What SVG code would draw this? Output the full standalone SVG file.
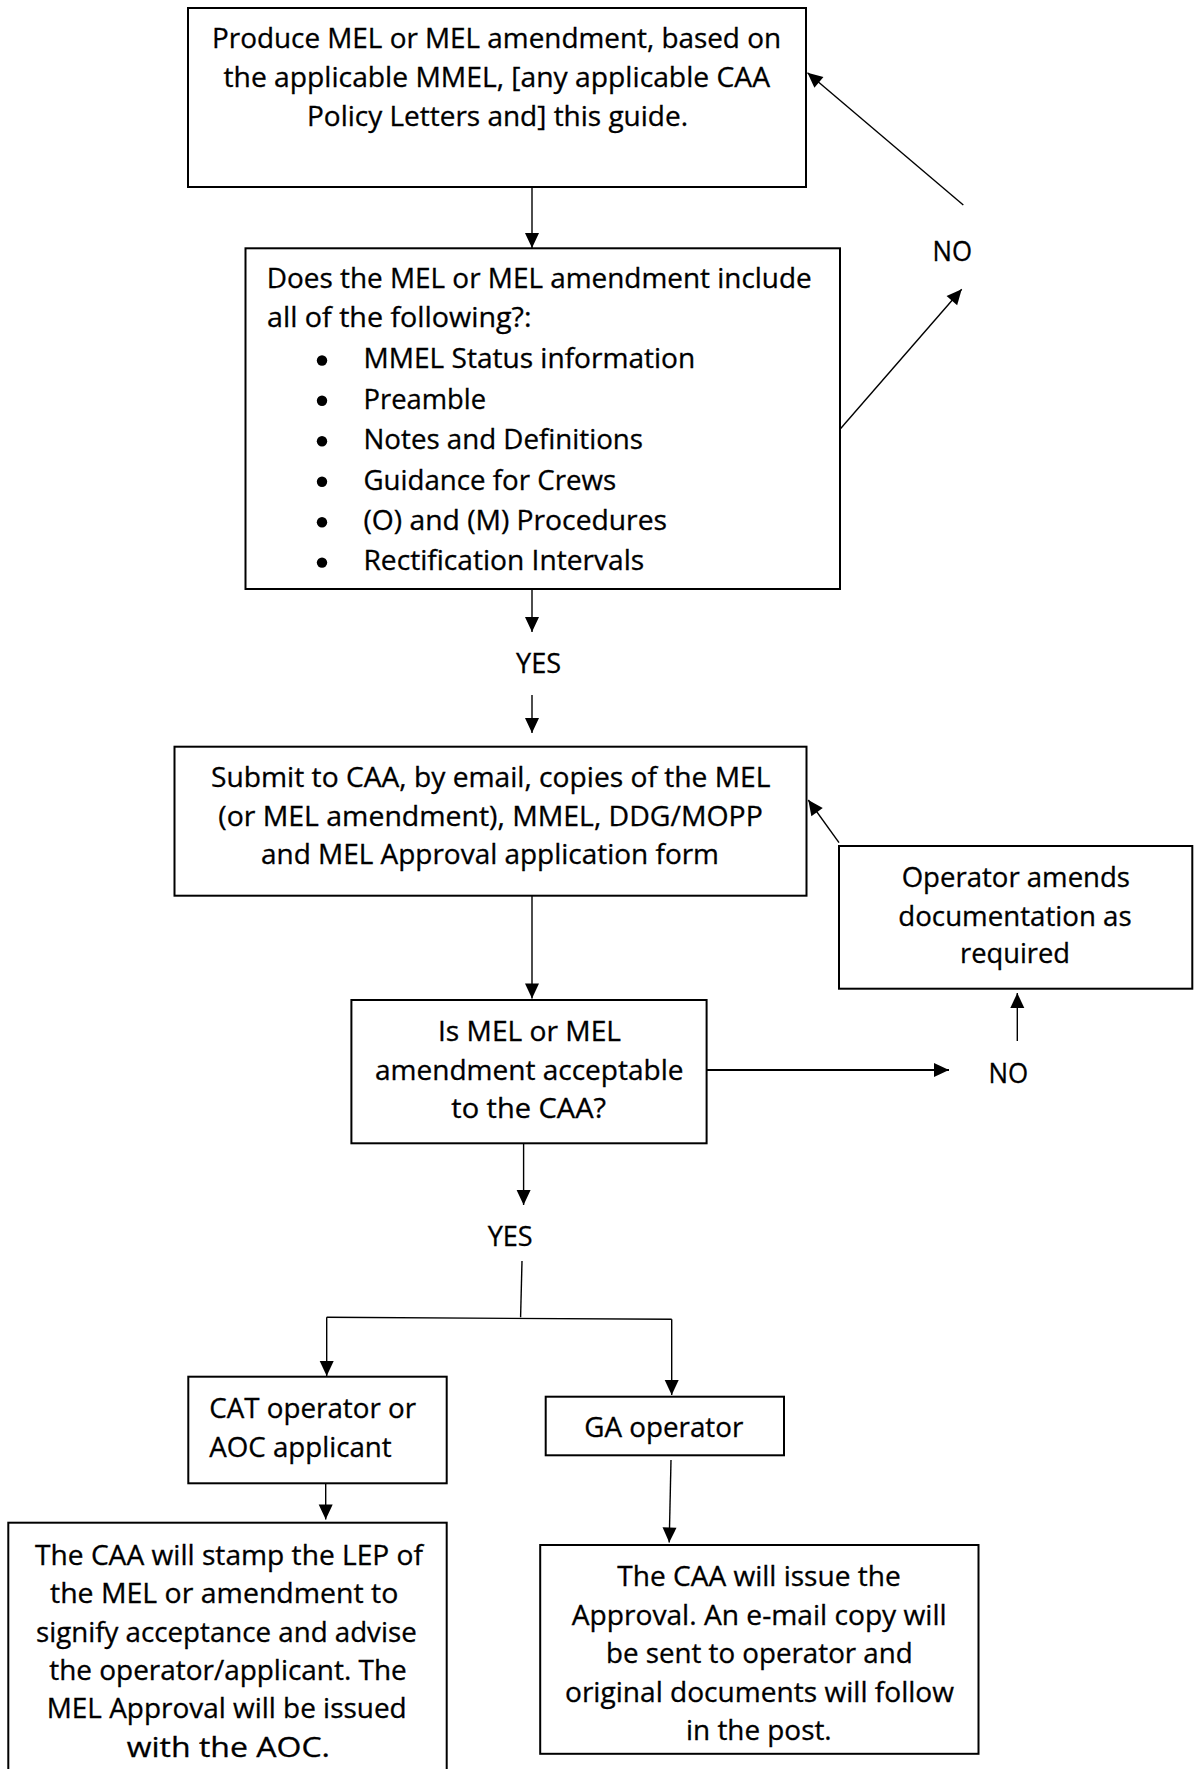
<svg xmlns="http://www.w3.org/2000/svg" width="1195" height="1769" viewBox="0 0 1195 1769">
<style>
.box{fill:#fff;stroke:#000;stroke-width:2}
.t{font-family:"Open Sans","Liberation Sans",sans-serif;font-size:27px;fill:#000;stroke:#000;stroke-width:0.3}
.c{fill:none;stroke:#000;stroke-width:1.4}
.ck{fill:none;stroke:#000;stroke-width:2.2}
</style>
<defs>
<marker id="ah" markerUnits="userSpaceOnUse" markerWidth="16" markerHeight="14" refX="15" refY="7" orient="auto" overflow="visible">
<path d="M0,0 L15,7 L0,14 Z" fill="#000"/>
</marker>
</defs>
<rect width="1195" height="1769" fill="#fff"/>

<g id="connectors">
<path class="c" d="M532,187 L532,248" marker-end="url(#ah)"/>
<path class="c" d="M963.3,205 L807.5,72.7" marker-end="url(#ah)"/>
<path class="c" d="M840,429.3 L961.7,289.3" marker-end="url(#ah)"/>
<path class="c" d="M532,589 L532,632" marker-end="url(#ah)"/>
<path class="c" d="M532,695 L532,733" marker-end="url(#ah)"/>
<path class="c" d="M532,896 L532,998.5" marker-end="url(#ah)"/>
<path class="ck" d="M707,1070 L949,1070" marker-end="url(#ah)"/>
<path class="c" d="M1017.3,1041 L1017.3,993" marker-end="url(#ah)"/>
<path class="c" d="M839,842.7 L808.3,800" marker-end="url(#ah)"/>
<path class="c" d="M523.6,1143.3 L523.6,1205" marker-end="url(#ah)"/>
<path class="c" d="M522,1261 L520.6,1317.3"/>
<path class="c" d="M326.7,1317.3 L671.7,1319.3"/>
<path class="c" d="M326.7,1317.3 L326.7,1376" marker-end="url(#ah)"/>
<path class="c" d="M671.7,1319.3 L671.7,1395" marker-end="url(#ah)"/>
<path class="c" d="M325.7,1483.3 L325.7,1519.5" marker-end="url(#ah)"/>
<path class="c" d="M671,1460 L669.2,1542.5" marker-end="url(#ah)"/>
</g>

<g id="produce">
<rect class="box" x="188" y="8" width="618" height="179"/>
<text class="t" x="212" y="48.3" textLength="569" lengthAdjust="spacingAndGlyphs">Produce MEL or MEL amendment, based on</text>
<text class="t" x="223.5" y="87.3" textLength="546.5" lengthAdjust="spacingAndGlyphs">the applicable MMEL, [any applicable CAA</text>
<text class="t" x="307" y="126" textLength="381" lengthAdjust="spacingAndGlyphs">Policy Letters and] this guide.</text>
</g>

<g id="check">
<rect class="box" x="245.5" y="248.3" width="594.5" height="340.7"/>
<text class="t" x="266.7" y="288.3" textLength="545" lengthAdjust="spacingAndGlyphs">Does the MEL or MEL amendment include</text>
<text class="t" x="267" y="327.3" textLength="264.5" lengthAdjust="spacingAndGlyphs">all of the following?:</text>
<circle cx="322" cy="360.5" r="5.2"/>
<circle cx="322" cy="400.8" r="5.2"/>
<circle cx="322" cy="441.2" r="5.2"/>
<circle cx="322" cy="481.7" r="5.2"/>
<circle cx="322" cy="522.2" r="5.2"/>
<circle cx="322" cy="562.6" r="5.2"/>
<text class="t" x="363.5" y="368.3" textLength="331.7" lengthAdjust="spacingAndGlyphs">MMEL Status information</text>
<text class="t" x="363.5" y="408.6" textLength="122.5" lengthAdjust="spacingAndGlyphs">Preamble</text>
<text class="t" x="363.5" y="449" textLength="279.5" lengthAdjust="spacingAndGlyphs">Notes and Definitions</text>
<text class="t" x="363.5" y="489.5" textLength="252.6" lengthAdjust="spacingAndGlyphs">Guidance for Crews</text>
<text class="t" x="363.5" y="530" textLength="303.5" lengthAdjust="spacingAndGlyphs">(O) and (M) Procedures</text>
<text class="t" x="363.5" y="570.4" textLength="280.7" lengthAdjust="spacingAndGlyphs">Rectification Intervals</text>
</g>

<g id="no1">
<text class="t" x="932.5" y="261" textLength="39.5" lengthAdjust="spacingAndGlyphs">NO</text>
</g>

<g id="yes1">
<text class="t" x="516" y="673.3" textLength="45" lengthAdjust="spacingAndGlyphs">YES</text>
</g>

<g id="submit">
<rect class="box" x="174.5" y="746.7" width="632" height="149"/>
<text class="t" x="211" y="787.3" textLength="559.5" lengthAdjust="spacingAndGlyphs">Submit to CAA, by email, copies of the MEL</text>
<text class="t" x="218.3" y="826" textLength="544.5" lengthAdjust="spacingAndGlyphs">(or MEL amendment), MMEL, DDG/MOPP</text>
<text class="t" x="261" y="864.3" textLength="458" lengthAdjust="spacingAndGlyphs">and MEL Approval application form</text>
</g>

<g id="amends">
<rect class="box" x="839" y="846" width="353.3" height="142.7"/>
<text class="t" x="901.7" y="886.7" textLength="228.3" lengthAdjust="spacingAndGlyphs">Operator amends</text>
<text class="t" x="898.3" y="925.7" textLength="233.4" lengthAdjust="spacingAndGlyphs">documentation as</text>
<text class="t" x="960" y="963.3" textLength="110" lengthAdjust="spacingAndGlyphs">required</text>
</g>

<g id="acceptable">
<rect class="box" x="351.4" y="1000" width="355.2" height="143.3"/>
<text class="t" x="438" y="1040.7" textLength="183" lengthAdjust="spacingAndGlyphs">Is MEL or MEL</text>
<text class="t" x="375" y="1080" textLength="308.5" lengthAdjust="spacingAndGlyphs">amendment acceptable</text>
<text class="t" x="451.3" y="1118.3" textLength="154.7" lengthAdjust="spacingAndGlyphs">to the CAA?</text>
</g>

<g id="no2">
<text class="t" x="988.4" y="1082.7" textLength="39.7" lengthAdjust="spacingAndGlyphs">NO</text>
</g>

<g id="yes2">
<text class="t" x="487.7" y="1246" textLength="45" lengthAdjust="spacingAndGlyphs">YES</text>
</g>

<g id="cat">
<rect class="box" x="188.3" y="1376.7" width="258.4" height="106.6"/>
<text class="t" x="209.3" y="1418.3" textLength="206.7" lengthAdjust="spacingAndGlyphs">CAT operator or</text>
<text class="t" x="209.3" y="1456.7" textLength="182.4" lengthAdjust="spacingAndGlyphs">AOC applicant</text>
</g>

<g id="ga">
<rect class="box" x="545.7" y="1396.7" width="238.3" height="58.6"/>
<text class="t" x="584.3" y="1437.3" textLength="159" lengthAdjust="spacingAndGlyphs">GA operator</text>
</g>

<g id="stamp">
<rect class="box" x="8.3" y="1522.7" width="438.4" height="270"/>
<text class="t" x="35" y="1565" textLength="388" lengthAdjust="spacingAndGlyphs">The CAA will stamp the LEP of</text>
<text class="t" x="50" y="1603.3" textLength="348.3" lengthAdjust="spacingAndGlyphs">the MEL or amendment to</text>
<text class="t" x="36" y="1641.7" textLength="380.7" lengthAdjust="spacingAndGlyphs">signify acceptance and advise</text>
<text class="t" x="49.3" y="1680" textLength="357.4" lengthAdjust="spacingAndGlyphs">the operator/applicant. The</text>
<text class="t" x="46.7" y="1718.3" textLength="360" lengthAdjust="spacingAndGlyphs">MEL Approval will be issued</text>
<text class="t" x="126.7" y="1756.7" textLength="203.3" lengthAdjust="spacingAndGlyphs">with the AOC.</text>
</g>

<g id="issue">
<rect class="box" x="540.2" y="1545" width="438.3" height="208.8"/>
<text class="t" x="617.3" y="1586" textLength="283.4" lengthAdjust="spacingAndGlyphs">The CAA will issue the</text>
<text class="t" x="571.7" y="1625" textLength="375" lengthAdjust="spacingAndGlyphs">Approval. An e-mail copy will</text>
<text class="t" x="606" y="1663.3" textLength="306.7" lengthAdjust="spacingAndGlyphs">be sent to operator and</text>
<text class="t" x="565" y="1701.7" textLength="389" lengthAdjust="spacingAndGlyphs">original documents will follow</text>
<text class="t" x="686" y="1740" textLength="145.7" lengthAdjust="spacingAndGlyphs">in the post.</text>
</g>
</svg>
